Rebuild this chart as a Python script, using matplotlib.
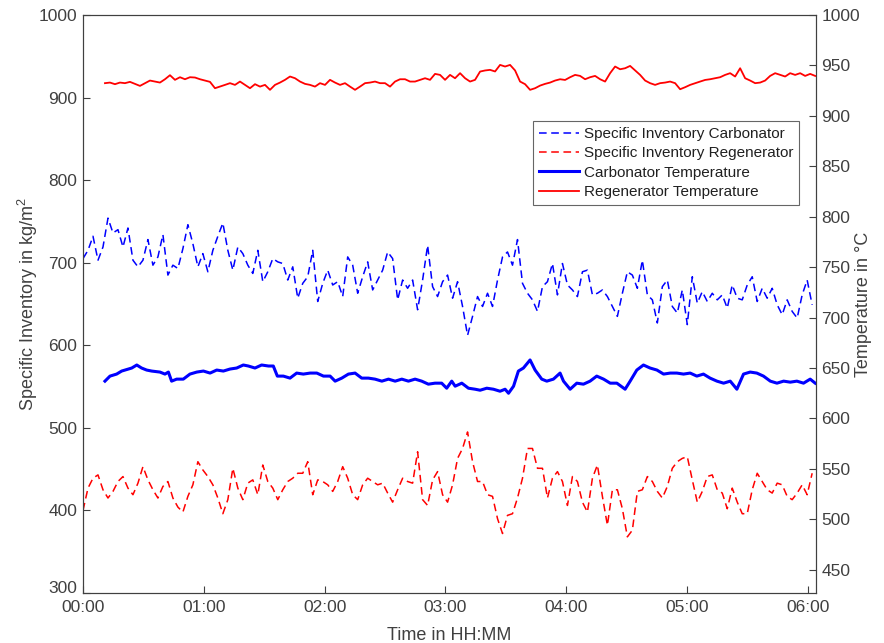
import numpy as np
import matplotlib
matplotlib.use("Agg")
import matplotlib.pyplot as plt

plt.rcParams['font.family'] = ['Liberation Sans', 'DejaVu Sans']
plt.rcParams['mathtext.default'] = 'regular'

# specific inventory, sampled every ~2.48 min from 00:00 (kg/m^2)
carb_inventory = [
    705, 715, 732, 703, 719, 754, 736, 740, 719, 742, 703, 695, 703, 728, 697, 707,
    734, 685, 697, 693, 717, 746, 723, 695, 711, 689, 715, 732, 748, 715, 691, 719,
    711, 697, 687, 715, 677, 689, 705, 701, 699, 679, 695, 657, 675, 683, 715, 653,
    675, 691, 673, 677, 659, 707, 697, 663, 683, 701, 667, 679, 691, 713, 705, 655,
    679, 669, 679, 643, 679, 721, 671, 659, 677, 685, 657, 677, 647, 612, 635, 659,
    647, 663, 647, 679, 707, 713, 697, 728, 675, 663, 655, 641, 671, 677, 699, 661,
    699, 673, 667, 659, 689, 691, 661, 663, 667, 659, 647, 635, 663, 689, 685, 669,
    703, 661, 655, 627, 671, 679, 647, 639, 667, 625, 683, 651, 665, 653, 663, 655,
    661, 645, 673, 657, 655, 673, 683, 653, 669, 657, 669, 649, 637, 655, 641, 633,
    661, 679, 649,
]
regen_inventory = [
    400, 427, 439, 443, 425, 415, 423, 435, 441, 427, 419, 433, 453, 437, 425, 415,
    429, 435, 415, 404, 398, 417, 431, 459, 449, 441, 431, 415, 396, 413, 451, 427,
    413, 433, 437, 419, 455, 435, 427, 413, 425, 435, 439, 445, 445, 459, 419, 437,
    435, 431, 423, 435, 453, 439, 419, 413, 431, 439, 435, 431, 433, 421, 410, 425,
    439, 435, 433, 471, 413, 406, 437, 447, 419, 410, 431, 463, 475, 495, 459, 435,
    435, 419, 417, 390, 372, 394, 396, 415, 439, 475, 475, 451, 451, 415, 439, 447,
    435, 406, 441, 435, 410, 398, 439, 455, 417, 382, 425, 425, 402, 368, 376, 423,
    425, 441, 435, 423, 415, 429, 451, 459, 463, 465, 437, 410, 423, 441, 443, 425,
    421, 402, 427, 410, 396, 396, 425, 445, 435, 425, 421, 433, 431, 417, 413, 421,
    431, 419, 445,
]

# regenerator temperature, every ~2.48 min starting at 00:11 (degC)
regen_temp = [
    932.4, 933.0, 931.4, 933.0, 932.4, 933.7, 931.7, 929.7, 932.4, 935.0, 934.0, 933.0,
    936.3, 940.3, 935.7, 938.3, 936.3, 938.3, 938.0, 936.3, 935.0, 933.7, 927.4, 929.0,
    930.7, 932.4, 930.7, 934.0, 930.7, 927.4, 931.4, 929.0, 930.7, 925.8, 930.7, 933.0,
    935.7, 939.0, 937.3, 934.0, 931.7, 930.7, 929.0, 932.4, 930.7, 935.7, 933.0, 930.7,
    932.4, 929.0, 925.8, 929.0, 932.4, 933.0, 934.0, 932.4, 932.4, 929.0, 934.0, 936.3,
    936.3, 934.0, 934.0, 935.7, 937.3, 935.7, 941.6, 940.6, 935.7, 940.6, 937.3, 942.3,
    937.3, 934.0, 935.7, 943.9,
    945.0, 945.6, 944.0, 950.5, 948.9, 950.5, 945.0, 934.0, 931.4, 925.8, 927.4, 930.0,
    931.7, 933.0, 935.0, 936.3, 935.6, 938.3, 940.6, 939.6, 936.3, 938.3, 939.6, 936.3,
    934.0, 942.3, 948.9, 946.2, 947.2, 949.5, 945.0, 940.6, 935.0, 932.4, 930.7, 932.4,
    933.0, 934.0, 932.4, 926.4, 928.4, 930.7, 932.4, 934.0, 935.6, 936.3, 937.3, 938.3,
    940.6, 942.3, 939.0, 947.2, 937.3, 935.0, 932.4, 933.0, 935.0, 939.6, 942.3, 940.6,
    939.0, 942.3, 940.6, 942.3, 939.6, 941.6, 939.6,
]

# carbonator temperature (minutes, degC)
carb_temp_min = [
    10.9, 13.4, 16.7, 19.2, 21.7, 24.2, 26.7, 29.1, 31.6, 34.1, 38.2, 40.7, 42.4, 44.0,
    46.5, 49.8, 53.1, 56.5, 59.8, 63.1, 66.4, 69.7, 73.0, 76.3, 79.6, 82.1, 85.4, 88.7,
    92.1, 94.5, 96.5, 99.5, 102.8, 106.1, 109.4, 112.8, 116.1, 119.4, 122.7, 125.2, 128.5,
    131.8, 135.1, 138.4, 141.7, 145.0, 148.4, 151.7, 155.0, 158.3, 161.6, 164.9, 168.2,
    171.5, 174.8, 178.1, 180.6, 183.1, 184.8, 188.1, 191.4, 194.7,
    197.2, 200.5, 203.8, 207.1, 209.6, 211.3, 213.8, 216.2, 218.7, 222.0, 224.5, 227.8,
    230.3, 233.6, 236.9, 238.6, 241.9, 245.2, 248.5, 251.8, 255.1, 258.5, 261.8, 265.1,
    269.2, 271.7, 275.0, 278.3, 281.6, 285.0, 288.3, 291.6, 294.9, 298.2, 301.5, 304.8,
    308.1, 311.4, 314.8, 318.1, 321.4, 324.7, 328.0, 331.3, 334.6, 337.9, 341.3, 344.6,
    347.9, 351.2, 354.5, 357.8, 361.1, 363.6,
]
carb_temp = [
    637, 642, 644, 647, 648.5, 650, 653, 650, 648, 647, 646, 644, 646, 637,
    639, 639, 644, 646, 647, 645, 648, 647, 649, 650, 653, 652, 650, 653,
    652, 652, 642, 642, 640, 645, 644, 645, 645, 642, 642, 637, 640,
    644, 645, 640, 640, 639, 637, 639, 637, 639, 637, 639, 637,
    634, 635, 635, 630, 637, 632, 635, 630, 629,
    628, 630, 629, 627, 629, 625, 632, 647, 650, 658, 648, 639,
    637, 639, 645, 637, 629, 635, 634, 637, 642, 639, 635, 635,
    629, 637, 648, 653, 650, 648, 644, 645, 645, 644, 645, 642,
    644, 640, 637, 635, 637, 629, 644, 646, 645, 642, 637, 635,
    637, 636, 637, 635, 639, 635,
]

hour_ticks = [0, 60, 120, 180, 240, 300, 360]
hour_labels = ['00:00', '01:00', '02:00', '03:00', '04:00', '05:00', '06:00']

axis_col = '#404040'

fig = plt.figure(figsize=(8.84, 6.43), dpi=100)
ax = fig.add_axes([0.0939, 0.0778, 0.8292, 0.8989])
ax2 = ax.twinx()

inv_t = np.arange(len(carb_inventory)) * 2.48
regen_t = 10.9 + np.arange(len(regen_temp)) * 2.4836

l1, = ax.plot(inv_t, carb_inventory, color='#0000ff', lw=1.1, dashes=(5, 3),
              label='Specific Inventory Carbonator')
l2, = ax.plot(inv_t, regen_inventory, color='#ff0000', lw=1.1, dashes=(5, 3),
              label='Specific Inventory Regenerator')
l3, = ax2.plot(carb_temp_min, carb_temp, color='#0000ff', lw=2.2,
               label='Carbonator Temperature')
l4, = ax2.plot(regen_t, regen_temp, color='#ff0000', lw=1.3,
               label='Regenerator Temperature')

ax.set_xlim(0, 364)
ax.set_ylim(300, 1000)
ax2.set_ylim(427, 1000)
ax.set_yticks(np.arange(300, 1001, 100))
ax2.set_yticks(np.arange(450, 1001, 50))
ax.set_xticks(hour_ticks)
ax.set_xticklabels(hour_labels)

for a in (ax, ax2):
    a.tick_params(direction='in', length=5, width=0.8, colors=axis_col,
                  labelsize=12.5, labelcolor='#404040')
    for s in a.spines.values():
        s.set_color(axis_col)
        s.set_linewidth(0.8)
ax.tick_params(axis='x', pad=5)
ax.tick_params(axis='y', pad=4)
ax2.tick_params(axis='y', pad=4)

# the lowest left label sits slightly raised, as in the original
fig.canvas.draw()
ax.get_yticklabels()[0].set_va('baseline')

ax.set_xlabel('Time in HH:MM', fontsize=13, color='#404040', labelpad=9)
ax.set_ylabel('Specific Inventory in kg/m$^2$', fontsize=13, color='#404040', labelpad=-1)
ax2.set_ylabel('Temperature in °C', fontsize=13, color='#404040', labelpad=-4)

leg = ax.legend(handles=[l1, l2, l3, l4], loc='upper right',
                bbox_to_anchor=(0.977, 0.817), fontsize=11, frameon=True,
                fancybox=False, edgecolor='#404040', handlelength=2.6,
                handletextpad=0.3, borderpad=0.4, labelspacing=0.35,
                borderaxespad=0)
leg.get_frame().set_linewidth(0.8)
for t in leg.get_texts():
    t.set_color('#202020')

fig.savefig('out.png', dpi=100)
